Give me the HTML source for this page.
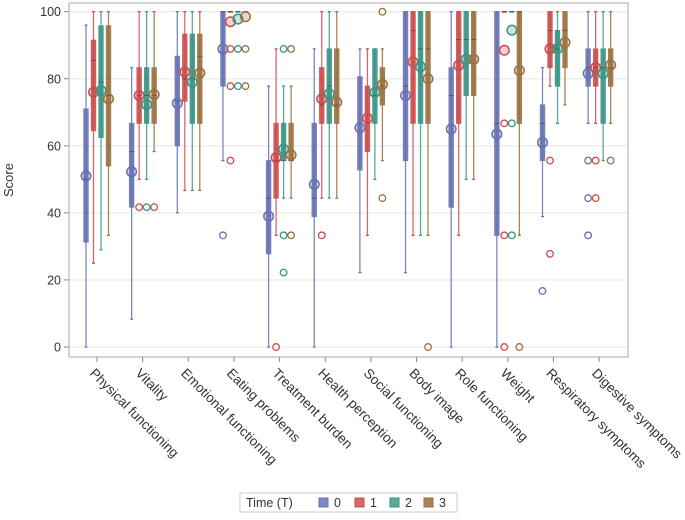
<!DOCTYPE html>
<html><head><meta charset="utf-8"><style>
body{margin:0;background:#fff;font-family:"Liberation Sans",sans-serif}
svg text{font-family:"Liberation Sans",sans-serif}
</style></head><body>
<svg id="chart" width="685" height="515" viewBox="0 0 685 515"></svg>
<script>
const categories=["Physical functioning","Vitality","Emotional functioning","Eating problems","Treatment burden","Health perception","Social functioning","Body image","Role functioning","Weight","Respiratory symptoms","Digestive symptoms"];
const times=["0","1","2","3"];
const colors=["#6671b3","#cc4b4b","#389484","#9a7040"];
const lights=["#7c87c4","#d66a6a","#5aa898","#a98458"];
// each entry: [whiskerLow, q1, median, q3, whiskerHigh, mean]
const stats0=[[0,31.3,50,71,96,51],[8.3,41.7,58.3,66.7,83.3,52.3],[40,60,73.3,86.7,100,72.7],[55.6,77.8,100,100,100,88.9],[0,27.8,44.4,55.6,77.8,39],[0,38.9,44.4,66.7,88.9,48.5],[22.2,52.8,66.7,80.6,88.9,65.4],[22.2,55.6,77.8,100,100,75],[0,41.7,75,83.3,100,65],[0,33.3,66.7,100,100,63.5],[38.9,55.6,66.7,72.2,83.3,61],[66.7,77.8,83.3,88.9,100,81.6]];
const stats1=[[25,64.5,85.5,91.5,100,76],[50,66.7,75,83.3,100,75],[46.7,73.3,80,93.3,100,82],[100,100,100,100,100,97],[33.3,44.4,55.6,66.7,88.9,56.5],[44.4,66.7,72.2,83.3,100,74],[33.3,58.3,66.7,77.8,88.9,68.2],[33.3,66.7,94.4,100,100,85],[33.3,66.7,91.7,100,100,84],[100,100,100,100,100,88.5],[77.8,83.3,94.4,100,100,88.9],[66.7,77.8,83.3,88.9,100,83.3]];
const stats2=[[29,62.5,79,95.8,100,76.5],[50,66.7,75,83.3,100,72.3],[46.7,66.7,80,93.3,100,79],[100,100,100,100,100,97.8],[44.4,55.6,55.6,66.7,77.8,59],[44.4,66.7,77.8,88.9,100,75.5],[50,66.7,75,88.9,88.9,75.9],[33.3,66.7,88.9,100,100,83.6],[50,75,91.7,100,100,85.8],[100,100,100,100,100,94.5],[66.7,77.8,88.9,94.4,100,89],[55.6,66.7,83.3,88.9,100,81.6]];
const stats3=[[33.3,54,75,95.8,100,74],[58.3,66.7,75,83.3,100,75.3],[46.7,66.7,86.7,93.3,100,81.7],[100,100,100,100,100,98.5],[44.4,55.6,55.6,66.7,77.8,57.3],[44.4,66.7,72.2,88.9,100,73],[55.6,72.2,77.8,83.3,88.9,78.3],[33.3,66.7,88.9,100,100,80],[50,75,91.7,100,100,85.8],[33.3,66.7,100,100,100,82.5],[72.2,83.3,94.4,100,100,90.8],[66.7,77.8,83.3,88.9,100,84.1]];
const outliers0=[[],[],[],[33.3],[],[],[],[],[],[],[16.7],[55.6,44.4,33.3]];
const outliers1=[[],[41.7],[],[88.9,77.8,55.6],[0],[33.3],[],[],[],[66.7,33.3,0],[55.6,27.8],[55.6,44.4]];
const outliers2=[[],[41.7],[],[88.9,77.8],[88.9,33.3,22.2],[],[],[],[],[66.7,33.3],[],[]];
const outliers3=[[],[41.7],[],[88.9,77.8],[88.9,33.3],[],[100,44.4],[0],[],[0],[],[55.6]];
const yTicks=[0,20,40,60,80,100];
const allStats=[stats0,stats1,stats2,stats3];
const allOut=[outliers0,outliers1,outliers2,outliers3];

const NS="http://www.w3.org/2000/svg";
const svg=document.getElementById('chart');
const L=69,R=628,T=3,B=357;
const y=v=>347-v*3.353;
const xc=i=>97+i*45.65;
const off=[-11,-3.5,4,11.5];
function mk(tag,attrs,parent){const e=document.createElementNS(NS,tag);for(const k in attrs)e.setAttribute(k,attrs[k]);(parent||svg).appendChild(e);return e;}

const grid=mk('g',{});


yTicks.forEach(t=>{
  const ln=mk('line',{x1:L,x2:R,y1:y(t),y2:y(t),stroke:'#e6e6e6','stroke-width':1},grid);
  
  
  const tk=mk('line',{x1:L-5,x2:L,y1:y(t),y2:y(t),stroke:'#888'});
  
  
  const tx=mk('text',{x:L-8,y:y(t)+4.5,'text-anchor':'end','font-size':12.5,fill:'#333'});
  tx.textContent=t;
  
  
});
const frame=mk('rect',{x:L,y:T,width:R-L,height:B-T,fill:'none',stroke:'#aaa'});


const yt=mk('text',{x:13,y:180,'text-anchor':'middle','font-size':13,fill:'#333',transform:'rotate(-90 13 180)'});
yt.textContent='Score';



categories.forEach((c,i)=>{
  const tk=mk('line',{x1:xc(i),x2:xc(i),y1:B,y2:B+5,stroke:'#888'});
  
  
  const lx=xc(i)-8,ly=374;
  const tx=mk('text',{x:lx,y:ly,'font-size':13.5,fill:'#333',transform:`rotate(45 ${lx} ${ly})`});
  tx.textContent=c;
  
  
  for(let s=0;s<4;s++){
    const d=allStats[s][i];const x=xc(i)+off[s];const col=colors[s];
    const g=mk('g',{});
    
    
    mk('line',{x1:x,x2:x,y1:y(d[0]),y2:y(d[4]),stroke:lights[s],'stroke-width':1.3},g);
    mk('line',{x1:x-1.5,x2:x+1.5,y1:y(d[0]),y2:y(d[0]),stroke:col,'stroke-width':1.3},g);
    mk('line',{x1:x-1.5,x2:x+1.5,y1:y(d[4]),y2:y(d[4]),stroke:col,'stroke-width':1.3},g);
    mk('rect',{x:x-2.7,y:y(d[3])-0.5,width:5.4,height:Math.max(1.5,y(d[1])-y(d[3])+1),fill:col,opacity:0.9},g);
    mk('line',{x1:x-2.7,x2:x+2.7,y1:y(d[2]),y2:y(d[2]),stroke:'rgba(0,0,0,0.3)','stroke-width':1},g);
    mk('circle',{cx:x,cy:y(d[5]),r:4.8,fill:col,'fill-opacity':0.25,stroke:col,'stroke-width':1.5},g);
    allOut[s][i].forEach(o=>{
      const oc=mk('circle',{cx:x,cy:y(o),r:3.3,fill:'none',stroke:col,'stroke-width':1.3});
      
      
    });
  }
});

const lg=mk('g',{});


mk('rect',{x:240,y:493,width:217,height:19,fill:'#fff',stroke:'#ccc'},lg);
const lt=mk('text',{x:246,y:507,'font-size':12.5,fill:'#333'},lg);
lt.textContent='Time (T)';
const lx=[319,355,390,424];
times.forEach((t,s)=>{
  const e=mk('g',{},lg);
  
  
  mk('rect',{x:lx[s],y:498,width:9,height:9,fill:lights[s],stroke:colors[s]},e);
  const tx=mk('text',{x:lx[s]+15,y:507,'font-size':12.5,fill:'#333'},e);
  tx.textContent=t;
});
</script>
</body></html>
